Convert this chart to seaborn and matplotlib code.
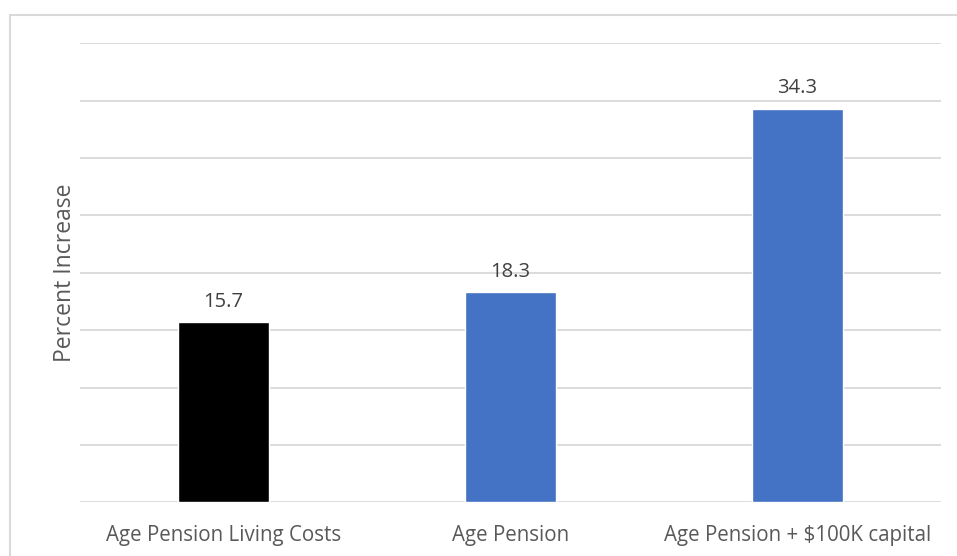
import matplotlib
matplotlib.use("Agg")
import matplotlib.pyplot as plt
import matplotlib.patches as mpatches
import seaborn as sns
import pandas as pd

categories = ["Age Pension Living Costs", "Age Pension", "Age Pension + $100K capital"]
values = [15.7, 18.3, 34.3]
bar_colors = ["#000000", "#4472C4", "#4472C4"]

sns.set_theme(style="white")
plt.rcParams["font.family"] = ["Open Sans", "DejaVu Sans"]

W, H = 957, 556
fig = plt.figure(figsize=(W / 100, H / 100), dpi=100)
ax = fig.add_axes([80 / W, 1 - 502.3 / H, 861 / W, (502.3 - 43.3) / H])

df = pd.DataFrame({"category": categories, "value": values})
sns.barplot(data=df, x="category", y="value", hue="category",
            palette=dict(zip(categories, bar_colors)), width=0.314,
            legend=False, ax=ax, saturation=1, zorder=3)

ax.set_ylim(0, 40)
ax.set_yticks(range(0, 41, 5))
ax.yaxis.grid(True, color="#D9D9D9", linewidth=1.3, zorder=0)
ax.tick_params(axis="y", left=False, labelleft=False)
ax.tick_params(axis="x", bottom=False, labelsize=14.8, labelcolor="#595959", pad=10.5)
for s in ax.spines.values():
    s.set_visible(False)
ax.set_xlabel("")
ax.set_ylabel("Percent Increase", fontsize=16.5, color="#595959", labelpad=2)

for i, v in enumerate(values):
    ax.annotate(f"{v:.1f}", (i, v), xytext=(0, 7.5), textcoords="offset points",
                ha="center", va="bottom", fontsize=14.5, color="#404040")

# chart frame
fig.patches.append(mpatches.Rectangle((10 / W, -0.1), 1.2, 1.1 - 15 / H,
                                      transform=fig.transFigure, fill=False,
                                      edgecolor="#D9D9D9", linewidth=1.5))

fig.savefig("out.png", dpi=100, facecolor="white")
